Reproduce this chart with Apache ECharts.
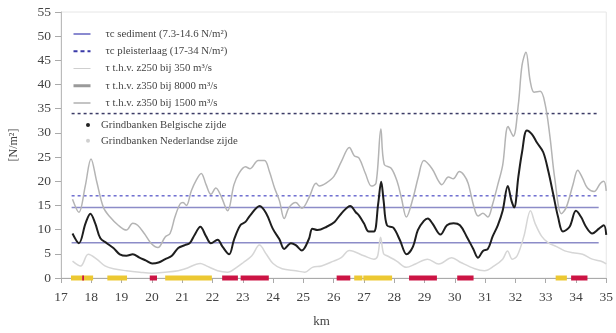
<!DOCTYPE html>
<html><head><meta charset="utf-8">
<script src="https://cdn.jsdelivr.net/npm/echarts@6/dist/echarts.min.js"></script>
<style>html,body{margin:0;padding:0;background:#fff}#c{width:616px;height:333px}</style>
</head><body><div id="c"></div>
<script>
// ---- data ----
const kmMin = 17, kmMax = 35, kmStep = 1;
const tauMin = 0, tauMax = 55, tauStep = 5;
const sedimentLevels = [7.3, 14.6];
const pleisterLevels = [17, 34];
const refLineRange = [17.35, 34.75];

const names = [
  'τc sediment (7.3-14.6 N/m²)',
  'τc pleisterlaag (17-34 N/m²)',
  'τ t.h.v. z250 bij 350 m³/s',
  'τ t.h.v. z350 bij 8000 m³/s',
  'τ t.h.v. z350 bij 1500 m³/s',
  'Grindbanken Belgische zijde',
  'Grindbanken Nederlandse zijde'
];

const tau8000 = [[17.38,16.3],[17.59,13.6],[17.8,19.0],[17.99,24.6],[18.18,19.9],[18.4,14.6],[18.62,12.6],[18.89,10.9],[19.16,9.9],[19.37,11.3],[19.53,10.9],[19.75,9.2],[19.97,7.2],[20.2,6.3],[20.44,8.5],[20.6,9.2],[20.76,12.6],[20.93,15.3],[21.03,15.6],[21.14,15.0],[21.3,18.0],[21.47,20.3],[21.63,21.6],[21.79,19.3],[21.95,17.3],[22.11,18.6],[22.28,17.0],[22.5,13.9],[22.71,19.3],[22.87,21.6],[23.09,23.0],[23.24,22.6],[23.51,24.3],[23.72,24.3],[23.88,22.0],[24.05,18.6],[24.21,16.0],[24.37,12.3],[24.53,14.6],[24.75,15.6],[24.95,14.4],[25.18,16.5],[25.42,19.6],[25.53,19.0],[25.75,19.6],[26.01,21.0],[26.25,24.0],[26.52,27.0],[26.68,25.3],[26.84,24.8],[27.05,21.6],[27.25,19.0],[27.4,19.6],[27.56,30.8],[27.67,23.5],[27.9,22.7],[28.1,19.9],[28.24,16.5],[28.4,12.6],[28.62,16.5],[28.8,21.0],[28.98,24.3],[29.25,22.6],[29.45,20.2],[29.57,19.3],[29.79,20.9],[29.95,20.5],[30.15,22.0],[30.3,21.3],[30.44,19.6],[30.62,15.0],[30.77,12.8],[30.93,13.4],[31.09,12.6],[31.25,15.3],[31.42,19.3],[31.58,23.3],[31.76,31.3],[31.93,29.3],[32.1,36.0],[32.22,44.0],[32.35,46.7],[32.49,40.7],[32.62,38.4],[32.82,38.6],[32.98,36.0],[33.14,29.3],[33.3,20.6],[33.52,13.3],[33.68,14.6],[33.9,19.3],[34.06,22.3],[34.22,20.6],[34.38,18.6],[34.6,17.9],[34.81,19.6],[34.92,20.0],[35.0,18.0]];

const tau1500 = [[17.38,9.2],[17.59,7.2],[17.81,11.3],[17.97,13.3],[18.13,11.3],[18.3,8.2],[18.51,7.2],[18.73,6.2],[18.94,4.9],[19.16,4.6],[19.37,4.9],[19.59,4.2],[19.81,3.6],[20.01,3.0],[20.22,3.2],[20.44,3.9],[20.66,4.6],[20.87,6.2],[21.09,6.8],[21.25,7.2],[21.41,8.9],[21.6,10.6],[21.79,8.6],[21.95,7.2],[22.17,7.9],[22.33,6.5],[22.55,4.9],[22.71,7.9],[22.92,10.9],[23.09,11.6],[23.24,12.9],[23.56,14.9],[23.78,13.3],[23.99,10.2],[24.21,8.0],[24.37,6.0],[24.59,7.2],[24.75,6.8],[24.95,5.7],[25.18,8.0],[25.3,10.2],[25.47,9.9],[25.77,10.6],[26.03,11.6],[26.25,13.3],[26.55,14.9],[26.73,13.6],[26.84,12.9],[27.0,11.3],[27.16,9.6],[27.33,9.6],[27.47,15.3],[27.57,19.9],[27.65,16.0],[27.76,10.9],[27.97,10.4],[28.19,7.8],[28.41,4.9],[28.62,6.5],[28.78,9.9],[28.98,11.8],[29.11,12.3],[29.26,11.3],[29.53,9.0],[29.74,10.9],[29.96,11.3],[30.17,10.9],[30.39,8.6],[30.61,6.0],[30.77,4.2],[30.93,5.6],[31.09,6.0],[31.25,8.6],[31.42,10.9],[31.58,13.9],[31.75,19.0],[31.87,16.0],[31.96,14.6],[32.1,21.0],[32.22,26.0],[32.38,30.5],[32.55,29.7],[32.71,28.0],[32.92,26.0],[33.09,22.0],[33.25,17.3],[33.41,12.6],[33.57,9.6],[33.79,10.6],[34.0,13.9],[34.17,12.6],[34.33,10.6],[34.54,9.2],[34.76,10.2],[34.92,10.9],[35.0,8.9]];

const tau350 = [[17.38,3.5],[17.65,2.5],[17.9,4.9],[18.18,3.9],[18.45,2.5],[18.73,1.9],[19.16,1.5],[19.6,1.2],[20.0,1.0],[20.44,1.2],[20.87,1.5],[21.1,1.9],[21.6,3.0],[21.8,2.5],[22.17,1.5],[22.5,1.2],[22.8,2.2],[23.02,3.2],[23.3,4.6],[23.55,6.8],[23.78,4.9],[24.0,3.0],[24.3,1.9],[24.75,1.5],[25.05,1.2],[25.3,2.2],[25.6,2.5],[26.0,3.5],[26.25,4.2],[26.52,5.7],[27.0,4.6],[27.33,3.9],[27.45,4.5],[27.55,8.4],[27.65,5.0],[27.76,4.6],[28.08,3.5],[28.4,2.2],[28.7,2.9],[29.1,3.9],[29.47,2.9],[29.9,4.2],[30.2,3.2],[30.66,1.9],[30.98,1.5],[31.3,2.5],[31.58,3.9],[31.74,5.6],[31.9,3.9],[32.06,4.6],[32.28,8.6],[32.5,13.9],[32.65,11.3],[32.87,8.6],[33.1,7.2],[33.36,6.5],[33.63,5.6],[33.9,5.2],[34.22,4.9],[34.54,3.9],[34.81,3.5],[35.0,2.9]];

const grindNL = [[17.33,18.06],[18.53,19.18],[20.44,21.98],[26.68,26.95],[26.98,27.93],[33.33,33.7]];
const grindBE = [[17.70,17.76],[19.93,20.17],[22.32,22.84],[22.93,23.86],[26.1,26.55],[28.49,29.41],[30.08,30.62],[33.84,34.38]];

// ---- chart ----
const serif = 'Liberation Serif';
const noSym = {opacity:0, color:'rgba(0,0,0,0)', borderWidth:0};
function hline(name, level, color, type){
  return {type:'line', name:name, data:[[refLineRange[0],level],[refLineRange[1],level]],
    symbol:'none', silent:true, z:1,
    itemStyle:{color:color},
    lineStyle:{color:color, width:1.5, type:type}};
}
function barSeries(name, data, color, z){
  return {type:'custom', name:name, data:data, z:z, clip:false,
    encode:{x:[0,1], y:1},
    renderItem:function(params, api){
      const s = api.coord([api.value(0), 0]);
      const e = api.coord([api.value(1), 0]);
      return {type:'rect', shape:{x:s[0], y:s[1]-2.5, width:e[0]-s[0], height:5},
        style:{fill:color}};
    },
    itemStyle:{color:color}};
}

const chart = echarts.init(document.getElementById('c'), null, {renderer:'canvas'});
chart.setOption({
  animation:false,
  backgroundColor:'#fff',
  grid:{left:56, right:6, top:12, bottom:47, show:true, borderColor:'#e6e6e6', borderWidth:1},
  xAxis:{type:'value', min:kmMin, max:kmMax, interval:kmStep,
    name:'km', nameLocation:'middle', nameGap:37,
    nameTextStyle:{fontFamily:serif, fontSize:13, color:'#444', padding:[0,24,0,0]},
    axisLine:{show:true, lineStyle:{color:'#aaa'}},
    axisTick:{show:true, length:5, lineStyle:{color:'#aaa'}},
    axisLabel:{fontFamily:serif, fontSize:13.5, color:'#444', margin:12},
    splitLine:{show:false}},
  yAxis:{type:'value', min:tauMin, max:tauMax, interval:tauStep,
    name:'[N/m²]', nameLocation:'middle', nameGap:41,
    nameTextStyle:{fontFamily:serif, fontSize:12, color:'#444'},
    axisLine:{show:true, lineStyle:{color:'#bbb'}},
    axisTick:{show:true, length:6, lineStyle:{color:'#aaa'}},
    axisLabel:{fontFamily:serif, fontSize:13.5, color:'#444', margin:10},
    splitLine:{show:false}},
  legend:[{
    orient:'vertical', left:72, top:28, padding:0,
    itemWidth:17, itemHeight:10, itemGap:5.25,
    textStyle:{fontFamily:serif, fontSize:10.8, color:'#444', lineHeight:12, padding:[0,0,0,10]},
    data:[
      {name:names[0], itemStyle:noSym, lineStyle:{color:'#8a8ad0', width:2, type:'solid'}},
      {name:names[1], itemStyle:noSym, lineStyle:{color:'#3a3aa8', width:2, type:[4,3]}},
      {name:names[2], itemStyle:noSym, lineStyle:{color:'#cfcfcf', width:1, type:'solid'}},
      {name:names[3], itemStyle:noSym, lineStyle:{color:'#9a9a9a', width:3, type:'solid'}},
      {name:names[4], itemStyle:noSym, lineStyle:{color:'#b0b0b0', width:1.5, type:'solid'}}
    ]
  },{
    orient:'vertical', left:86, top:119, padding:0,
    itemWidth:6, itemHeight:4, itemGap:3.7, icon:'circle',
    textStyle:{fontFamily:serif, fontSize:10.8, color:'#444', lineHeight:12, padding:[0,0,0,5]},
    data:[
      {name:names[5], icon:'circle', itemStyle:{color:'#222'}},
      {name:names[6], icon:'circle', itemStyle:{color:'#d0d0d0'}}
    ]
  }],
  series:[
    hline(names[0], sedimentLevels[0], '#8c8cc8', 'solid'),
    hline(names[0], sedimentLevels[1], '#8c8cc8', 'solid'),
    hline(names[1], pleisterLevels[0], '#6f6fd0', [3,3]),
    hline(names[1], pleisterLevels[1], '#3c3c66', [3,3]),
    {type:'line', name:names[2], data:tau350, symbol:'none', smooth:0.35, z:2,
      itemStyle:{color:'#d6d6d6'}, lineStyle:{color:'#d6d6d6', width:1.5}},
    {type:'line', name:names[3], data:tau8000, symbol:'none', smooth:0.35, z:3,
      itemStyle:{color:'#b4b4b4'}, lineStyle:{color:'#b4b4b4', width:1.5}},
    {type:'line', name:names[4], data:tau1500, symbol:'none', smooth:0.35, z:4,
      itemStyle:{color:'#1e1e1e'}, lineStyle:{color:'#1e1e1e', width:2}},
    barSeries(names[6], grindNL, '#ecc832', 5),
    barSeries(names[5], grindBE, '#cc1444', 6)
  ]
});
</script>
</body></html>
